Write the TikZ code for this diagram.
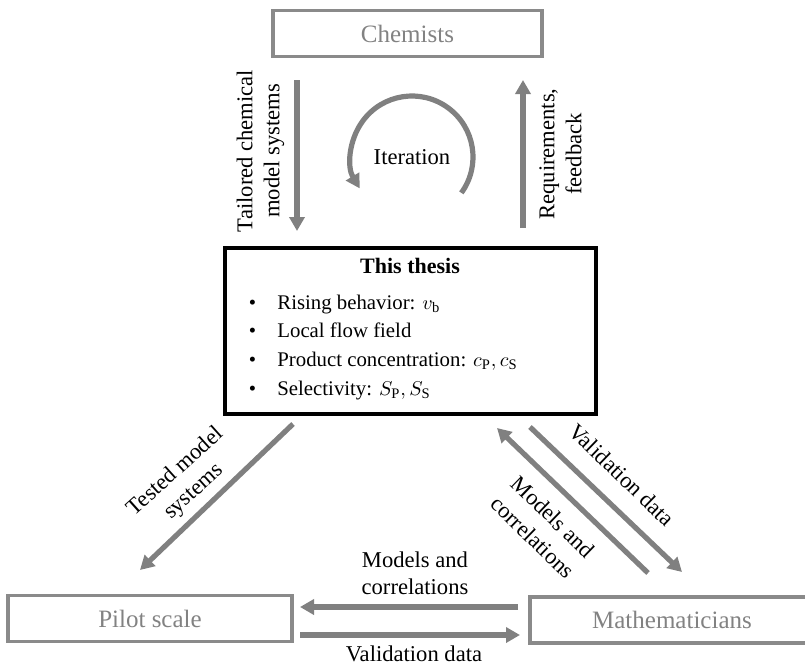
\documentclass[tikz,border=0pt]{standalone}
\usepackage{fontspec}
\setmainfont{Liberation Serif}
\usepackage{tikz}
\usetikzlibrary{arrows.meta}

\definecolor{flowgray}{RGB}{128,128,128}
\definecolor{boxgray}{RGB}{138,138,138}
\definecolor{namegray}{RGB}{130,130,130}

\begin{document}
\begin{tikzpicture}[x=0.5pt, y=-0.5pt,
    party/.style={draw=boxgray, line width=1.7pt, text=namegray,
        font=\fontsize{12.5}{15}\selectfont, minimum width=#1,
        minimum height=23pt, inner sep=0pt},
    flow/.style={draw=flowgray, line width=2.6pt,
        -{Triangle[length=7pt,width=7.5pt]}},
    lbl/.style={font=\fontsize{11.3}{13.5}\selectfont, align=center, inner sep=0pt},
    point/.style={font=\fontsize{10.4}{12}\selectfont, anchor=base west, inner sep=0pt}]
\useasboundingbox (0,0) rectangle (805,665);
% Parties
    \node[party=134.5pt] (chem) at (407.5,33.5) {Chemists};
    \node[party=142pt] (pilot) at (150,618.5) {Pilot scale};
    \node[party=142pt] (math) at (672,620) {Mathematicians};
% This thesis
    \node[draw, line width=1.6pt, minimum width=185.5pt, minimum height=83pt,
        inner sep=0pt] (thesis) at (410.5,331) {};
    \node[font=\fontsize{11}{13}\selectfont\bfseries, anchor=base, inner sep=0pt]
        (title) at (410,273) {This thesis};
    \node[point] (rise) at (248.5,309) {\makebox[14.25pt][l]{\textbullet}Rising behavior: $v_\mathrm{b}$};
    \node[point] (local) at (248.5,337) {\makebox[14.25pt][l]{\textbullet}Local flow field};
    \node[point] (prod) at (248.5,366) {\makebox[14.25pt][l]{\textbullet}Product concentration: $c_\mathrm{P}, c_\mathrm{S}$};
    \node[point] (sel) at (248.5,395) {\makebox[14.25pt][l]{\textbullet}Selectivity: $S_\mathrm{P}, S_\mathrm{S}$};
% Arrow ends
    \coordinate (tailA) at (297,80);   \coordinate (tailB) at (297,231);
    \coordinate (reqA) at (523,228);   \coordinate (reqB) at (523,80);
    \coordinate (testA) at (293,424);  \coordinate (testB) at (140,570);
    \coordinate (valA) at (530,427);   \coordinate (valB) at (682,572);
    \coordinate (modA) at (648,573);   \coordinate (modB) at (497,428);
    \coordinate (lowA) at (518,607);   \coordinate (lowB) at (300,607);
    \coordinate (lowC) at (300,635);   \coordinate (lowD) at (520,635);
% Chemists and this thesis
    \draw[flow] (tailA) -- (tailB);
    \draw[flow] (reqA) -- (reqB);
    \node[lbl, rotate=90] (tailtxt) at (260.5,151) {Tailored chemical\\model systems};
    \node[lbl, rotate=90] (reqtxt) at (560.5,154) {Requirements,\\feedback};
% Iteration
    \node[lbl] (iter) at (412,157) {Iteration};
    \draw[flow] ([shift={(36:61)}]iter.center) arc[start angle=36, end angle=-211, radius=61];
% Pilot scale
    \draw[flow] (testA) -- (testB);
    \node[lbl, rotate=42] (testtxt) at (185,482) {Tested model\\systems};
% Mathematicians
    \draw[flow] (valA) -- (valB);
    \draw[flow] (modA) -- (modB);
    \node[lbl, rotate=-44] (valtxt) at (622,475) {Validation data};
    \node[lbl, rotate=-44, font=\fontsize{11.3}{14.5}\selectfont] (modtxt) at (543,527) {Models and\\correlations};
% Pilot scale and mathematicians
    \draw[flow] (lowA) -- (lowB);
    \draw[flow] (lowC) -- (lowD);
    \node[lbl] (lowtxt) at (415,573.5) {Models and\\correlations};
    \node[lbl] (lowval) at (414,654) {Validation data};
\end{tikzpicture}
\end{document}
